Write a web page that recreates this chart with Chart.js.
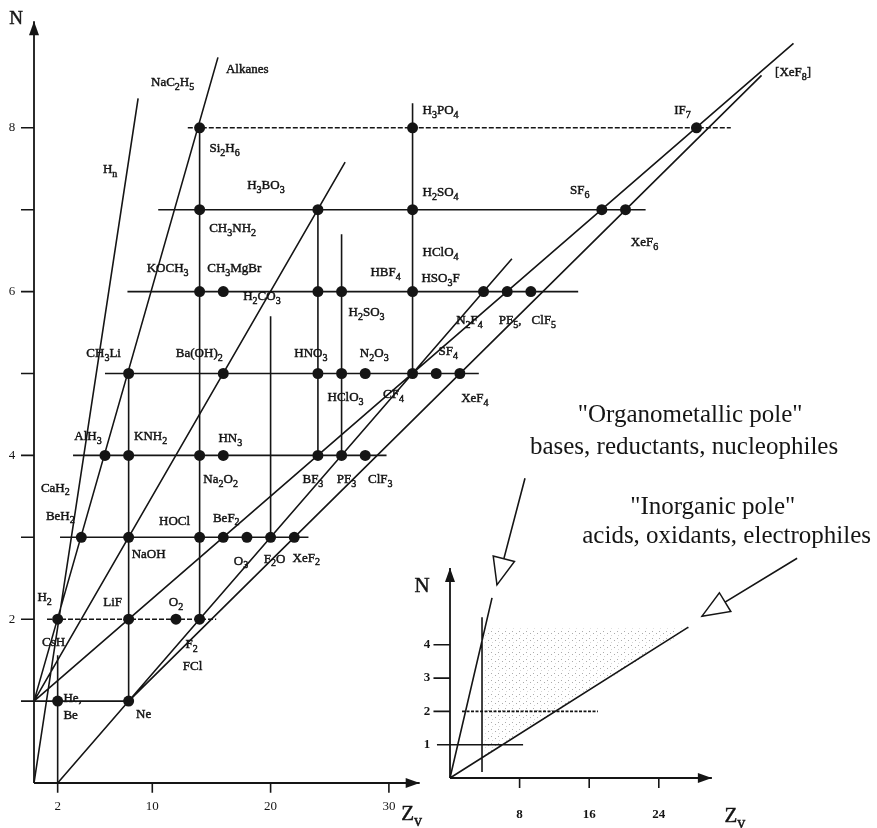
<!DOCTYPE html>
<html>
<head>
<meta charset="utf-8">
<script src="https://cdn.jsdelivr.net/npm/chart.js@4.4.1/dist/chart.umd.min.js"></script>
<style>
  html, body { margin: 0; padding: 0; background: #fff; }
  #box { position: relative; width: 877px; height: 828px; }
</style>
</head>
<body>
<div id="box"><canvas id="chart" width="877" height="828"></canvas></div>
<script>
// valence electrons (Zv) against number of atoms (N)
const names = ['He','Ne','H2','LiF','O2','F2',
  'BeH2','NaOH','HOCl','BeF2','O3','F2O','XeF2',
  'AlH3','KNH2','Na2O2','HN3','BF3','PF3','ClF3',
  'CH3Li','Ba(OH)2','HNO3','HClO3','N2O3','CF4','SF4','XeF4',
  'KOCH3','CH3MgBr','H2CO3','H2SO3','HBF4','N2F4','PF5','ClF5',
  'CH3NH2','H3BO3','H2SO4','SF6','XeF6',
  'Si2H6','H3PO4','IF7']
const zv = [2,8,2,8,12,14,
  4,8,14,16,18,20,22,
  6,8,14,16,24,26,28,
  8,16,24,26,28,32,34,36,
  14,16,24,26,32,38,40,42,
  14,24,32,48,50,
  14,32,56]
const atoms = [1,1,2,2,2,2,
  3,3,3,3,3,3,3,
  4,4,4,4,4,4,4,
  5,5,5,5,5,5,5,5,
  6,6,6,6,6,6,6,6,
  7,7,7,7,7,
  8,8,8]

// compounds that share a point with another one (label only, no extra dot)
const extraNames = ['Be','CsH','FCl','CaH2','NaC2H5','HClO4','HSO3F','[XeF8]']
const extraZv = [2,2,14,4,14,32,32,64]
const extraN = [1,2,2,3,8,6,6,9]

// horizontal rows N = const
const rowN = [1,2,3,4,5,6,7,8]
const rowFrom = [-1.1,1.1,2.2,3.3,6.0,7.9,10.5,13.0]
const rowTo = [8.0,15.4,23.2,29.8,37.6,46.0,51.7,58.9]

// vertical columns Zv = const
const colZv = [2,8,14,20,24,26,32]
const colFrom = [0,1,2,3,4,4,5]
const colTo = [1.56,5.0,8.0,5.7,7.0,6.7,8.3]

// diagonal series: Hn, alkanes, ..., fluorides, Xe fluorides
const diagFromZv = [0,0,0,0,2,8]
const diagFromN = [0,1,1,1,0,1]
const diagToZv = [8.8,15.55,26.3,64.2,40.4,61.5]
const diagToN = [8.36,8.86,7.58,9.03,6.4,8.64]

const xTicks = [2,10,20,30]
const yTicks = [1,2,3,4,5,6,7,8]
const yTickLabels = ['','2','','4','','6','','8']
const xTip = 32.6
const yTip = 9.3

// inset diagram
const insetXTicks = [8,16,24]
const insetYTicks = [1,2,3,4]
const insetFromZv = [0,3.68,0,-1.5]
const insetFromN = [0,0.18,0,1]
const insetToZv = [4.83,3.68,27.4,8.4]
const insetToN = [5.41,4.83,4.53,1]
const insetDashFrom = [1.38]
const insetDashTo = [17.0]
const insetDashN = [2]
const zoneZv = [4.0,27.6,4.0]
const zoneN = [4.5,4.5,0.66]
const insetXTip = 30.1
const insetYTip = 6.31

// pointer arrows (inset coordinates)
const arrowFromZv = [8.62,39.9]
const arrowFromN = [9.0,6.6]
const arrowToZv = [5.4,28.97]
const arrowToN = [5.8,4.86]

const notes = ['"Organometallic pole"','bases, reductants, nucleophiles','"Inorganic pole"','acids, oxidants, electrophiles']
const noteZv = [27.6,26.9,30.2,31.8]
const noteN = [10.9,9.94,8.14,7.24]

// label placement (pixel offsets from the point) and display text
const labelOffset = {
  'He':[15,-3,'He,'], 'Be':[13,14], 'Ne':[15,13],
  'H2':[-13,-22], 'CsH':[-4,23], 'LiF':[-16,-17], 'O2':[0,-17], 'F2':[-8,25], 'FCl':[-7,47],
  'BeH2':[-21,-22], 'CaH2':[-26,-50], 'NaOH':[20,16], 'HOCl':[-25,-17], 'BeF2':[3,-20],
  'O3':[-6,23], 'F2O':[4,21], 'XeF2':[12,20],
  'AlH3':[-17,-20], 'KNH2':[22,-20], 'Na2O2':[21,23], 'HN3':[7,-18],
  'BF3':[-5,23], 'PF3':[5,23], 'ClF3':[15,23],
  'CH3Li':[-25,-21], 'Ba(OH)2':[-24,-21], 'HNO3':[-7,-21], 'HClO3':[4,23], 'N2O3':[9,-21],
  'CF4':[-19,20], 'SF4':[12,-23], 'XeF4':[15,24],
  'KOCH3':[-32,-24], 'CH3MgBr':[11,-24], 'H2CO3':[-56,4], 'H2SO3':[25,20],
  'HBF4':[-27,-20], 'HClO4':[28,-40], 'HSO3F':[28,-14],
  'N2F4':[-14,28], 'PF5':[3,28,'PF5,'], 'ClF5':[13,28],
  'CH3NH2':[33,18], 'H3BO3':[-52,-25], 'H2SO4':[28,-18], 'SF6':[-22,-20], 'XeF6':[19,32],
  'Si2H6':[25,20], 'NaC2H5':[-27,-46], 'H3PO4':[28,-18], 'IF7':[-14,-18], '[XeF8]':[2,26]
}

const FONT = '"Liberation Serif", "DejaVu Serif", serif'
const INK = '#151515'

function seg(x1, y1, x2, y2) {
  return [{x: x1, y: y1}, {x: x2, y: y2}, {x: null, y: null}]
}

function lineSet(data, extra) {
  return Object.assign({
    type: 'scatter', data: data, showLine: true, pointRadius: 0,
    borderColor: INK, borderWidth: 1.6, spanGaps: false
  }, extra || {})
}

const dashedRows = [2,8]
const rowsSolid = rowN.flatMap((n, i) => dashedRows.includes(n) ? [] : seg(rowFrom[i], n, rowTo[i], n))
const rowsDashed = rowN.flatMap((n, i) => dashedRows.includes(n) ? seg(rowFrom[i], n, rowTo[i], n) : [])
const cols = colZv.flatMap((z, i) => seg(z, colFrom[i], z, colTo[i]))
const diags = diagFromZv.flatMap((z, i) => seg(z, diagFromN[i], diagToZv[i], diagToN[i]))
const axes = seg(0, 0, 0, yTip).concat(seg(0, 0, xTip, 0))
const ticks = xTicks.flatMap(t => seg(t, 0, t, -0.12)).concat(yTicks.slice(1).flatMap(t => seg(-1.1, t, 0, t)))
const dots = zv.map((z, i) => ({x: z, y: atoms[i]}))

const insetLines = insetFromZv.flatMap((z, i) => seg(z, insetFromN[i], insetToZv[i], insetToN[i]))
const insetDash = insetDashFrom.flatMap((z, i) => seg(z, insetDashN[i], insetDashTo[i], insetDashN[i]))
const insetAxes = seg(0, 0, 0, insetYTip).concat(seg(0, 0, insetXTip, 0))
const insetTicks = insetXTicks.flatMap(t => seg(t, 0, t, -0.3)).concat(insetYTicks.slice(1).flatMap(t => seg(-1.9, t, 0, t)))
const pointers = arrowFromZv.flatMap((z, i) => seg(z, arrowFromN[i], arrowToZv[i], arrowToN[i]))

function richText(ctx, str, x, y, size, align) {
  const parts = []
  for (let i = 0; i < str.length; i++) {
    const c = str[i]
    if (c === '_') { parts.push({c: str[i + 1], sub: true}); i++; continue }
    const sub = /[0-9]/.test(c) && i > 0 && /[A-Za-z)\]0-9]/.test(str[i - 1])
    parts.push({c: c, sub: sub})
  }
  const subSize = Math.round(size * 0.74)
  let w = 0
  parts.forEach(p => {
    ctx.font = (p.sub ? subSize : size) + 'px ' + FONT
    p.w = ctx.measureText(p.c).width
    w += p.w
  })
  let cx = align === 'left' ? x : x - w / 2
  const base = y + size * 0.33
  ctx.textAlign = 'left'
  ctx.textBaseline = 'alphabetic'
  ctx.lineWidth = 0.45
  ctx.strokeStyle = INK
  parts.forEach(p => {
    ctx.font = (p.sub ? subSize : size) + 'px ' + FONT
    const py = p.sub ? base + size * 0.3 : base
    ctx.fillText(p.c, cx, py)
    ctx.strokeText(p.c, cx, py)
    cx += p.w
  })
}

function arrowHead(ctx, fx, fy, tx, ty, len, half, hollow) {
  const a = Math.atan2(ty - fy, tx - fx)
  const bx = tx - Math.cos(a) * len, by = ty - Math.sin(a) * len
  ctx.beginPath()
  ctx.moveTo(tx, ty)
  ctx.lineTo(bx + Math.sin(a) * half, by - Math.cos(a) * half)
  ctx.lineTo(bx - Math.sin(a) * half, by + Math.cos(a) * half)
  ctx.closePath()
  if (hollow) {
    ctx.fillStyle = '#fff'
    ctx.fill()
    ctx.lineWidth = 1.5
    ctx.strokeStyle = INK
    ctx.stroke()
  } else {
    ctx.fillStyle = INK
    ctx.fill()
  }
}

function stipple(ctx) {
  const c = document.createElement('canvas')
  c.width = 7; c.height = 7
  const g = c.getContext('2d')
  g.fillStyle = 'rgba(90,90,90,0.5)'
  g.fillRect(1, 1, 1, 1)
  g.fillRect(5, 3, 1, 1)
  g.fillStyle = 'rgba(120,120,120,0.3)'
  g.fillRect(2, 5, 1, 1)
  return ctx.createPattern(c, 'repeat')
}

const overlay = {
  id: 'overlay',
  beforeDatasetsDraw(chart) {
    const ctx = chart.ctx, sx = chart.scales.x2, sy = chart.scales.y2
    ctx.save()
    ctx.beginPath()
    zoneZv.forEach((z, i) => {
      const px = sx.getPixelForValue(z), py = sy.getPixelForValue(zoneN[i])
      if (i) ctx.lineTo(px, py); else ctx.moveTo(px, py)
    })
    ctx.closePath()
    ctx.fillStyle = stipple(ctx)
    ctx.fill()
    ctx.restore()
  },
  afterDatasetsDraw(chart) {
    const ctx = chart.ctx
    const x = chart.scales.x, y = chart.scales.y, x2 = chart.scales.x2, y2 = chart.scales.y2
    ctx.save()
    // axis arrowheads
    arrowHead(ctx, x.getPixelForValue(0), y.getPixelForValue(0), x.getPixelForValue(0), y.getPixelForValue(yTip), 14, 5, false)
    arrowHead(ctx, x.getPixelForValue(0), y.getPixelForValue(0), x.getPixelForValue(xTip), y.getPixelForValue(0), 14, 5, false)
    arrowHead(ctx, x2.getPixelForValue(0), y2.getPixelForValue(0), x2.getPixelForValue(0), y2.getPixelForValue(insetYTip), 14, 5, false)
    arrowHead(ctx, x2.getPixelForValue(0), y2.getPixelForValue(0), x2.getPixelForValue(insetXTip), y2.getPixelForValue(0), 14, 5, false)
    arrowFromZv.forEach((z, i) => {
      arrowHead(ctx, x2.getPixelForValue(z), y2.getPixelForValue(arrowFromN[i]),
        x2.getPixelForValue(arrowToZv[i]), y2.getPixelForValue(arrowToN[i]), 27, 11, true)
    })

    ctx.fillStyle = INK
    // compound labels
    const all = names.map((n, i) => [n, zv[i], atoms[i]])
      .concat(extraNames.map((n, i) => [n, extraZv[i], extraN[i]]))
    all.forEach(([n, z, a]) => {
      const off = labelOffset[n]
      if (!off) return
      richText(ctx, off[2] || n, x.getPixelForValue(z) + off[0], y.getPixelForValue(a) + off[1], 13)
    })
    // series labels at line ends
    richText(ctx, 'H_n', x.getPixelForValue(diagToZv[0]) - 28, y.getPixelForValue(diagToN[0]) + 70, 13)
    richText(ctx, 'Alkanes', x.getPixelForValue(diagToZv[1]) + 8, y.getPixelForValue(diagToN[1]) + 11, 13, 'left')

    // main axes text
    ctx.fillStyle = INK
    ctx.textAlign = 'center'
    ctx.textBaseline = 'middle'
    ctx.font = '13px ' + FONT
    xTicks.forEach(t => ctx.fillText(String(t), x.getPixelForValue(t), y.getPixelForValue(0) + 24))
    yTicks.forEach((t, i) => ctx.fillText(yTickLabels[i], x.getPixelForValue(0) - 22, y.getPixelForValue(t)))
    richText(ctx, 'N', x.getPixelForValue(0) - 18, y.getPixelForValue(yTip) - 4, 19)
    richText(ctx, 'Z_v', x.getPixelForValue(xTip) - 8, y.getPixelForValue(0) + 30, 21)

    // inset axes text
    ctx.fillStyle = INK
    ctx.textAlign = 'center'
    ctx.textBaseline = 'middle'
    ctx.font = 'bold 13px ' + FONT
    insetXTicks.forEach(t => ctx.fillText(String(t), x2.getPixelForValue(t), y2.getPixelForValue(0) + 37))
    insetYTicks.forEach(t => ctx.fillText(String(t), x2.getPixelForValue(0) - 23, y2.getPixelForValue(t)))
    richText(ctx, 'N', x2.getPixelForValue(0) - 28, y2.getPixelForValue(insetYTip) + 17, 21)
    richText(ctx, 'Z_v', x2.getPixelForValue(insetXTip) + 23, y2.getPixelForValue(0) + 37, 21)

    // notes
    ctx.fillStyle = INK
    ctx.textAlign = 'center'
    ctx.textBaseline = 'middle'
    ctx.font = '25px ' + FONT
    notes.forEach((t, i) => ctx.fillText(t, x2.getPixelForValue(noteZv[i]), y2.getPixelForValue(noteN[i])))
    ctx.restore()
  }
}

new Chart(document.getElementById('chart'), {
  type: 'scatter',
  data: {
    datasets: [
      lineSet(rowsSolid),
      lineSet(rowsDashed, {borderDash: [5, 2]}),
      lineSet(cols),
      lineSet(diags),
      lineSet(axes, {borderWidth: 1.8}),
      lineSet(ticks),
      lineSet(insetLines, {xAxisID: 'x2', yAxisID: 'y2'}),
      lineSet(insetDash, {xAxisID: 'x2', yAxisID: 'y2', borderDash: [3, 1.5]}),
      lineSet(insetAxes, {xAxisID: 'x2', yAxisID: 'y2', borderWidth: 1.8}),
      lineSet(insetTicks, {xAxisID: 'x2', yAxisID: 'y2'}),
      lineSet(pointers, {xAxisID: 'x2', yAxisID: 'y2'}),
      {type: 'scatter', data: dots, pointRadius: 5.5, pointHoverRadius: 5.5,
        backgroundColor: INK, borderColor: INK, borderWidth: 0}
    ]
  },
  options: {
    responsive: false,
    animation: false,
    devicePixelRatio: 1,
    events: [],
    layout: {padding: 0, autoPadding: false},
    plugins: {legend: {display: false}, tooltip: {enabled: false}, title: {display: false}},
    scales: {
      x: {type: 'linear', display: false, min: -34 / 11.83, max: (877 - 34) / 11.83},
      y: {type: 'linear', display: false, min: -45 / 81.9, max: 783 / 81.9},
      x2: {type: 'linear', display: false, min: -450 / 8.7, max: (877 - 450) / 8.7},
      y2: {type: 'linear', display: false, min: -50 / 33.3, max: 778 / 33.3}
    }
  },
  plugins: [overlay]
})
</script>
</body>
</html>
